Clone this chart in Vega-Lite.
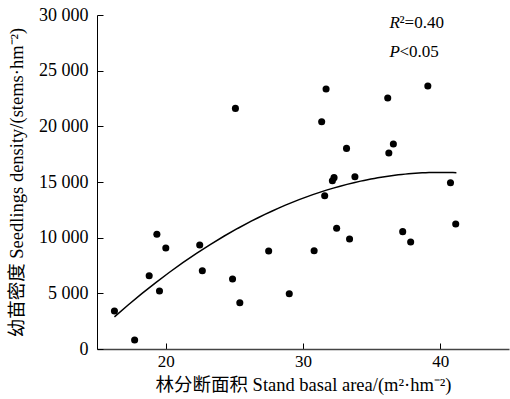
{
  "$schema": "https://vega.github.io/schema/vega-lite/v6.json",
  "autosize": "none",
  "width": 412,
  "height": 334,
  "padding": {"left": 97, "top": 15, "right": 1, "bottom": 50},
  "background": "white",
  "config": {
    "view": {"stroke": null},
    "axis": {
      "grid": false,
      "domainColor": "black",
      "tickColor": "black",
      "labelColor": "black",
      "titleColor": "black",
      "labelFont": "Liberation Serif",
      "labelFontSize": 18,
      "titleFont": "Liberation Serif, Noto Sans CJK SC",
      "titleFontSize": 18.5,
      "titleFontWeight": "normal"
    }
  },
  "datasets": {
    "pts": [
      {"ba": 16.27, "dens": 3410},
      {"ba": 17.74, "dens": 810},
      {"ba": 19.36, "dens": 10300},
      {"ba": 20.01, "dens": 9070},
      {"ba": 18.8, "dens": 6580},
      {"ba": 19.55, "dens": 5210},
      {"ba": 22.48, "dens": 9340},
      {"ba": 22.67, "dens": 7030},
      {"ba": 24.87, "dens": 6290},
      {"ba": 25.4, "dens": 4160},
      {"ba": 27.5, "dens": 8800},
      {"ba": 29.0, "dens": 4970},
      {"ba": 30.81, "dens": 8830},
      {"ba": 32.45, "dens": 10840},
      {"ba": 33.39, "dens": 9880},
      {"ba": 25.08, "dens": 21610},
      {"ba": 31.68, "dens": 23350},
      {"ba": 31.36, "dens": 20410},
      {"ba": 33.17, "dens": 18020},
      {"ba": 32.26, "dens": 15390},
      {"ba": 32.14, "dens": 15110},
      {"ba": 33.78, "dens": 15470},
      {"ba": 31.58, "dens": 13770},
      {"ba": 36.17, "dens": 22540},
      {"ba": 39.09, "dens": 23620},
      {"ba": 36.58, "dens": 18410},
      {"ba": 36.25, "dens": 17600},
      {"ba": 40.74, "dens": 14940},
      {"ba": 41.12, "dens": 11230},
      {"ba": 37.26, "dens": 10540},
      {"ba": 37.84, "dens": 9610}
    ],
    "notes": [
      {"main": "R", "rest": "²=0.40", "ba": 36.3, "dens": 28830},
      {"main": "P", "rest": "<0.05", "ba": 36.3, "dens": 26220}
    ]
  },
  "layer": [
    {
      "data": {"name": "pts"},
      "transform": [
        {"regression": "dens", "on": "ba", "method": "poly", "order": 2, "extent": [16.27, 41.17]}
      ],
      "mark": {"type": "line", "color": "black", "strokeWidth": 1.5},
      "encoding": {
        "x": {"field": "ba", "type": "quantitative"},
        "y": {"field": "dens", "type": "quantitative"}
      }
    },
    {
      "data": {"name": "pts"},
      "mark": {"type": "circle", "color": "black", "opacity": 1, "size": 50},
      "encoding": {
        "x": {
          "field": "ba", "type": "quantitative",
          "scale": {"domain": [15, 45], "nice": false, "zero": false},
          "axis": {
            "values": [20, 30, 40],
            "title": "林分断面积 Stand basal area/(m²·hm⁻²)",
            "tickSize": -6,
            "labelPadding": 10,
            "labelFontSize": 17,
            "domainColor": "#444",
            "domainWidth": 1.5,
            "titlePadding": 6
          }
        },
        "y": {
          "field": "dens", "type": "quantitative",
          "scale": {"domain": [0, 30000], "nice": false},
          "axis": {
            "values": [0, 5000, 10000, 15000, 20000, 25000, 30000],
            "labelExpr": "replace(format(datum.value, ','), ',', ' ')",
            "title": "幼苗密度 Seedlings density/(stems·hm⁻²)",
            "tickSize": -6,
            "labelPadding": 15,
            "titlePadding": 12
          }
        }
      }
    },
    {
      "data": {"name": "notes"},
      "mark": {"type": "text", "font": "Liberation Serif", "fontSize": 17, "fontStyle": "italic", "align": "left", "baseline": "alphabetic", "color": "black"},
      "encoding": {
        "x": {"field": "ba", "type": "quantitative"},
        "y": {"field": "dens", "type": "quantitative"},
        "text": {"field": "main"}
      }
    },
    {
      "data": {"name": "notes"},
      "mark": {"type": "text", "font": "Liberation Serif", "fontSize": 17, "align": "left", "baseline": "alphabetic", "dx": 10, "color": "black"},
      "encoding": {
        "x": {"field": "ba", "type": "quantitative"},
        "y": {"field": "dens", "type": "quantitative"},
        "text": {"field": "rest"}
      }
    }
  ]
}
